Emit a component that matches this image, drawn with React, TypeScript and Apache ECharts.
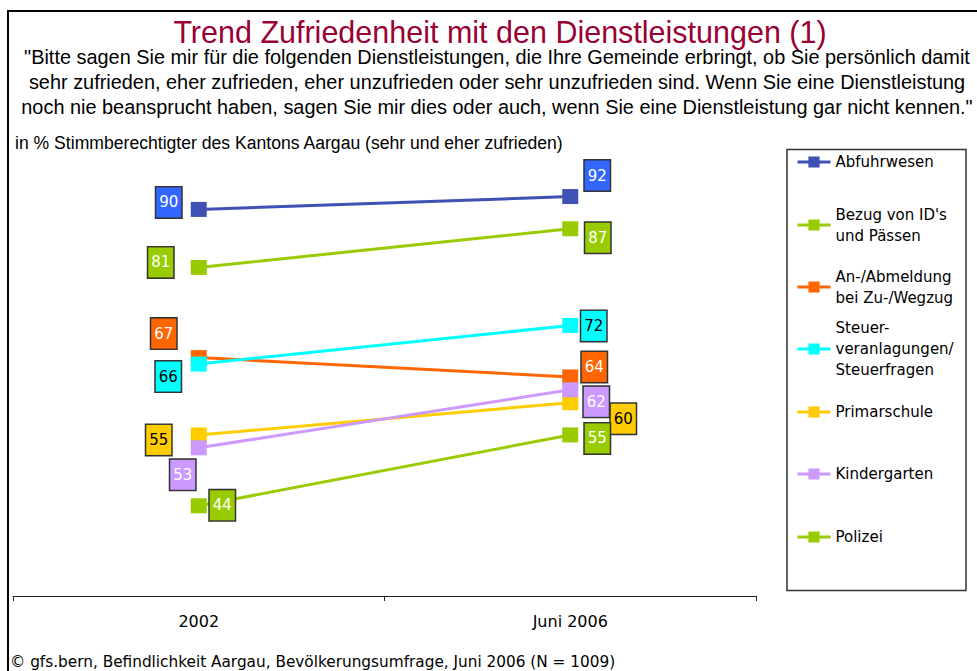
import React, { useEffect, useRef } from 'react';
import * as echarts from 'echarts';

// ---------- data ----------
const categories = ['2002', 'Juni 2006'];
const seriesNames = [
  'Abfuhrwesen',
  "Bezug von ID's und Pässen",
  'An-/Abmeldung bei Zu-/Wegzug',
  'Steuerveranlagungen/ Steuerfragen',
  'Primarschule',
  'Kindergarten',
  'Polizei',
];
const legendLabels = [
  'Abfuhrwesen',
  "Bezug von ID's\nund Pässen",
  'An-/Abmeldung\nbei Zu-/Wegzug',
  'Steuer-\nveranlagungen/\nSteuerfragen',
  'Primarschule',
  'Kindergarten',
  'Polizei',
];
const abfuhrwesen = [90, 92];
const bezugIdPaesse = [81, 87];
const anAbmeldung = [67, 64];
const steuerfragen = [66, 72];
const primarschule = [55, 60];
const kindergarten = [53, 62];
const polizei = [44, 55];
const seriesValues = [abfuhrwesen, bezugIdPaesse, anAbmeldung, steuerfragen, primarschule, kindergarten, polizei];

const titleText = 'Trend Zufriedenheit mit den Dienstleistungen (1)';
const questionText =
  '"Bitte sagen Sie mir für die folgenden Dienstleistungen, die Ihre Gemeinde erbringt, ob Sie persönlich damit\n' +
  'sehr zufrieden, eher zufrieden, eher unzufrieden oder sehr unzufrieden sind. Wenn Sie eine Dienstleistung\n' +
  'noch nie beansprucht haben, sagen Sie mir dies oder auch, wenn Sie eine Dienstleistung gar nicht kennen."';
const unitText = 'in % Stimmberechtigter des Kantons Aargau (sehr und eher zufrieden)';
const footerText = '© gfs.bern, Befindlichkeit Aargau, Bevölkerungsumfrage, Juni 2006 (N = 1009)';

// ---------- styles / layout ----------
const lineColors = ['#3f51b5', '#99cc00', '#ff6600', '#00ffff', '#ffcc00', '#cc99ff', '#99cc00'];
const boxColors = ['#3366ff', '#99cc00', '#ff6600', '#00ffff', '#ffcc00', '#cc99ff', '#99cc00'];
const boxTextColors = ['#ffffff', '#ffffff', '#ffffff', '#000000', '#000000', '#ffffff', '#ffffff'];
const labelOffsets = [
  [[-30, -7], [27, -21]],
  [[-38, -5], [27.5, 9]],
  [[-35, -24], [24, -10]],
  [[-30.5, 12.5], [23.5, 0.5]],
  [[-40, 5], [53, 16]],
  [[-16, 27], [26, 12]],
  [[23.5, -0.5], [27, 3.5]],
];
const legendIconY = [162, 225, 287, 349, 412, 474, 537];
const LEG_LH = 21;
const SANS = "'Liberation Sans', Arial, sans-serif";
const TAHOMA = "'DejaVu Sans', Verdana, sans-serif";

export default function App() {
  const ref = useRef<HTMLDivElement>(null);

  useEffect(() => {
    if (!ref.current) return;
    const chart = echarts.init(ref.current, undefined, { renderer: 'svg' });

    const series = seriesNames.map((name, i) => ({
      name,
      type: 'line',
      symbol: 'rect',
      symbolSize: [16, 15],
      z: 2 + i,
      lineStyle: { color: lineColors[i], width: 3 },
      itemStyle: { color: lineColors[i] },
      emphasis: { disabled: true },
      data: seriesValues[i].map((v, j) => ({
        value: v,
        label: { offset: labelOffsets[i][j] },
      })),
      label: {
        show: true,
        position: 'inside',
        fontFamily: TAHOMA,
        fontSize: 15,
        color: boxTextColors[i],
        backgroundColor: boxColors[i],
        borderColor: '#333333',
        borderWidth: 1.5,
        width: 25,
        height: 30,
        lineHeight: 30,
        align: 'center',
        verticalAlign: 'middle',
        padding: 0,
      },
    }));

    const legends = seriesNames.map((name, i) => {
      const n = legendLabels[i].split('\n').length;
      return {
        data: [name],
        left: 796,
        top: legendIconY[i] - ((2 * n - 1) * LEG_LH) / 2,
        padding: 0,
        itemWidth: 33,
        itemHeight: 14,
        selectedMode: false,
        lineStyle: { width: 3 },
        formatter: () => legendLabels[i],
        textStyle: {
          fontFamily: TAHOMA,
          fontSize: 15,
          lineHeight: LEG_LH,
          color: '#000',
          padding: [(n - 1) * LEG_LH, 0, 0, 0],
        },
      };
    });

    chart.setOption({
      animation: false,
      backgroundColor: '#ffffff',
      grid: { left: 13, right: 221, top: 145, bottom: 75, containLabel: false },
      xAxis: {
        type: 'category',
        data: categories,
        boundaryGap: true,
        axisLine: { lineStyle: { color: '#222', width: 1 } },
        axisTick: { show: true, length: 5, lineStyle: { color: '#222' } },
        axisLabel: { fontFamily: TAHOMA, fontSize: 16, color: '#000', margin: 17 },
        splitLine: { show: false },
      },
      yAxis: {
        type: 'value',
        min: 30,
        max: 100,
        show: false,
        splitLine: { show: false },
      },
      legend: legends,
      series,
      graphic: [
        {
          type: 'rect',
          shape: { x: 8, y: 11, width: 1200, height: 900 },
          style: { fill: 'none', stroke: '#000', lineWidth: 2 },
          silent: true,
        },
        {
          type: 'rect',
          shape: { x: 787, y: 149.5, width: 179, height: 441 },
          style: { fill: 'none', stroke: '#333', lineWidth: 1.5 },
          silent: true,
        },
        {
          type: 'text',
          x: 500,
          y: 32,
          style: {
            text: titleText,
            fill: '#990033',
            fontFamily: SANS,
            fontSize: 30.5,
            align: 'center',
            verticalAlign: 'middle',
          },
        },
        {
          type: 'text',
          x: 497,
          y: 44.5,
          style: {
            text: questionText,
            fill: '#000',
            fontFamily: SANS,
            fontSize: 19.9,
            lineHeight: 25,
            align: 'center',
            verticalAlign: 'top',
          },
        },
        {
          type: 'text',
          x: 15,
          y: 143,
          style: {
            text: unitText,
            fill: '#000',
            fontFamily: SANS,
            fontSize: 17.6,
            align: 'left',
            verticalAlign: 'middle',
          },
        },
        {
          type: 'text',
          x: 10,
          y: 662,
          style: {
            text: footerText,
            fill: '#000',
            fontFamily: TAHOMA,
            fontSize: 15.3,
            align: 'left',
            verticalAlign: 'middle',
          },
        },
      ],
    });

    return () => chart.dispose();
  }, []);

  return (
    <div
      ref={ref}
      style={{ position: 'fixed', left: 0, top: 0, width: 977, height: 671, background: '#fff' }}
    />
  );
}
